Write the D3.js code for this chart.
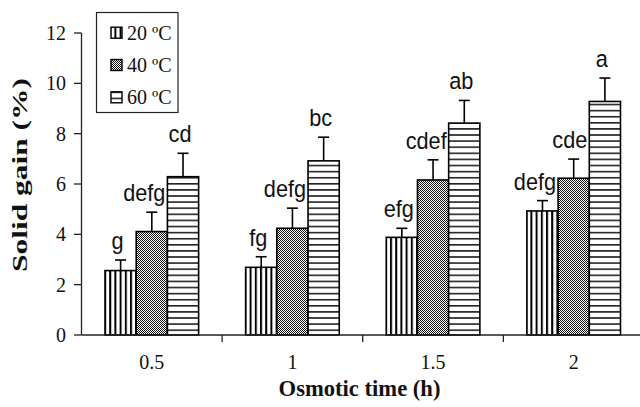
<!DOCTYPE html>
<html><head><meta charset="utf-8">
<script src="https://cdn.jsdelivr.net/npm/d3@7"></script>
<style>body{margin:0;background:#fff}svg{display:block}</style>
</head><body><svg id="c" width="640" height="407"></svg>
<script>
const categories = ["0.5","1","1.5","2"];
const seriesNames = ["20 ºC","40 ºC","60 ºC"];
const means20 = [2.56,2.69,3.88,4.93];
const means40 = [4.11,4.24,6.16,6.23];
const means60 = [6.29,6.92,8.42,9.28];
const err20 = [0.42,0.42,0.36,0.41];
const err40 = [0.77,0.80,0.80,0.76];
const err60 = [0.93,0.94,0.90,0.93];
const letters20 = ["g","fg","efg","defg"];
const letters40 = ["defg","defg","cdef","cde"];
const letters60 = ["cd","bc","ab","a"];
const yTicks = [0,2,4,6,8,10,12];
const xTitle = "Osmotic time (h)";
const yTitle = "Solid gain (%)";

const series = [
  {name: seriesNames[0], means: means20, errs: err20, letters: letters20, fill: "url(#vstripe)"},
  {name: seriesNames[1], means: means40, errs: err40, letters: letters40, fill: "url(#checker)"},
  {name: seriesNames[2], means: means60, errs: err60, letters: letters60, fill: "url(#hstripe)"}
];

const svg = d3.select("#c");
const defs = svg.append("defs");
let p = defs.append("pattern").attr("id","vstripe").attr("patternUnits","userSpaceOnUse")
  .attr("width",5.2).attr("height",10);
p.append("rect").attr("width",5.2).attr("height",10).attr("fill","#fff");
p.append("rect").attr("x",0).attr("width",2).attr("height",10).attr("fill","#000");
p = defs.append("pattern").attr("id","checker").attr("patternUnits","userSpaceOnUse")
  .attr("width",2).attr("height",2);
p.append("rect").attr("width",2).attr("height",2).attr("fill","#fff");
p.append("rect").attr("width",1).attr("height",1).attr("fill","#111");
p.append("rect").attr("x",1).attr("y",1).attr("width",1).attr("height",1).attr("fill","#111");
p = defs.append("pattern").attr("id","hstripe").attr("patternUnits","userSpaceOnUse")
  .attr("width",10).attr("height",6.1);
p.append("rect").attr("width",10).attr("height",6.1).attr("fill","#fff");
p.append("rect").attr("y",0).attr("width",10).attr("height",1.6).attr("fill","#222");

const x = d3.scaleBand().domain(categories).range([81.5, 644]).paddingInner(0).paddingOuter(0);
const xs = d3.scaleBand().domain(seriesNames).range([0, x.bandwidth()]).paddingInner(0).paddingOuter(0.753);
const y = d3.scaleLinear().domain([0,12]).range([335, 33]);

const serif = "'Liberation Serif','Times New Roman',serif";
const sans = "'Liberation Sans',Arial,Helvetica,sans-serif";

const g = svg.append("g");
series.forEach((s, si) => {
  categories.forEach((c, ci) => {
    const bx = x(c) + xs(s.name);
    const bw = xs.bandwidth();
    const top = y(s.means[ci]);
    g.append("rect").attr("x", bx).attr("y", top).attr("width", bw).attr("height", y(0) - top)
      .attr("fill", s.fill).attr("stroke", "#000").attr("stroke-width", 1.6);
    const cx = bx + bw/2;
    const et = y(s.means[ci] + s.errs[ci]);
    g.append("line").attr("x1",cx).attr("x2",cx).attr("y1",top).attr("y2",et)
      .attr("stroke","#000").attr("stroke-width",1.6);
    g.append("line").attr("x1",cx-5.5).attr("x2",cx+5.5).attr("y1",et).attr("y2",et)
      .attr("stroke","#000").attr("stroke-width",1.6);
    const t = g.append("text").text(s.letters[ci])
      .attr("font-family", sans).attr("font-size", 21.7).attr("fill","#111")
      .attr("text-anchor","middle");
    const w = t.node().getComputedTextLength();
    const lx = Math.min(cx - 3, bx + bw - 2 - w/2);
    t.attr("transform", `translate(${lx},${et - 11}) scale(1,1.13)`);
  });
});

const axisColor = "#222";
svg.append("line").attr("x1",81.5).attr("x2",81.5).attr("y1",y(12)).attr("y2",y(0))
  .attr("stroke",axisColor).attr("stroke-width",1.3);
svg.append("line").attr("x1",81.5).attr("x2",644).attr("y1",y(0)).attr("y2",y(0))
  .attr("stroke",axisColor).attr("stroke-width",1.3);
yTicks.forEach(v => {
  svg.append("line").attr("x1",74).attr("x2",81.5).attr("y1",y(v)).attr("y2",y(v))
    .attr("stroke",axisColor).attr("stroke-width",1.3);
  svg.append("text").text(v).attr("x",66).attr("y",y(v)+7)
    .attr("text-anchor","end").attr("font-family",serif).attr("font-size",20).attr("fill","#111");
});
categories.forEach((c, ci) => {
  if (ci > 0) {
    svg.append("line").attr("x1",x(c)).attr("x2",x(c)).attr("y1",y(0)).attr("y2",y(0)+7)
      .attr("stroke",axisColor).attr("stroke-width",1.3);
  }
  svg.append("text").text(c).attr("x", x(c) + x.bandwidth()/2).attr("y", 369)
    .attr("text-anchor","middle").attr("font-family",serif).attr("font-size",20).attr("fill","#111");
});

svg.append("text").text(xTitle).attr("x", 359.5).attr("y", 396)
  .attr("text-anchor","middle").attr("font-family",serif).attr("font-weight","bold")
  .attr("font-size",22.6).attr("fill","#111");
svg.append("text").text(yTitle)
  .attr("transform","translate(27,175) rotate(-90)")
  .attr("text-anchor","middle").attr("font-family",serif).attr("font-weight","bold")
  .attr("font-size",20).attr("fill","#111")
  .attr("textLength",194).attr("lengthAdjust","spacingAndGlyphs");

const lg = svg.append("g");
lg.append("rect").attr("x",96.5).attr("y",12.5).attr("width",81.5).attr("height",100)
  .attr("fill","#fff").attr("stroke","#222").attr("stroke-width",1.2);
series.forEach((s, si) => {
  const cy = 32.7 + si*32.3;
  lg.append("rect").attr("x",111).attr("y",cy-5.5).attr("width",11).attr("height",11)
    .attr("fill", s.fill).attr("stroke","#000").attr("stroke-width",1.4);
  lg.append("text").text(s.name).attr("x",127).attr("y",cy+7)
    .attr("font-family",serif).attr("font-size",20).attr("fill","#111");
});
</script></body></html>
